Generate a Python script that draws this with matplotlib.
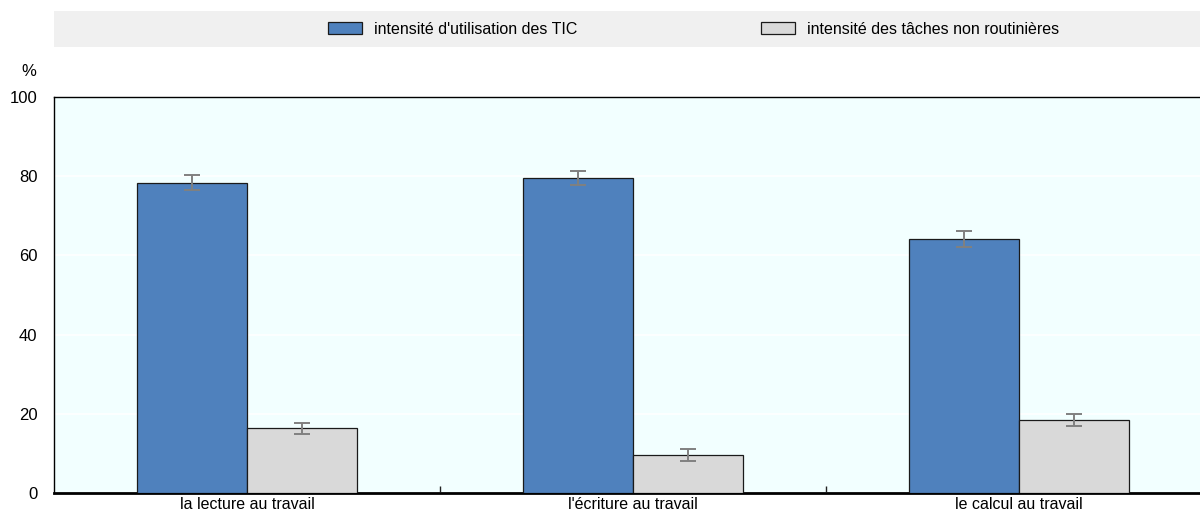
import matplotlib.pyplot as plt
import numpy as np
from matplotlib.patches import Rectangle

plt.rcParams['font.family'] = ['Liberation Sans', 'DejaVu Sans']

# data
categories = ["la lecture au travail", "l'écriture au travail", "le calcul au travail"]
series_names = ["intensité d'utilisation des TIC", "intensité des tâches non routinières"]
tic_vals = [78.4, 79.6, 64.1]
tic_err = [1.8, 1.7, 2.0]
nonrout_vals = [16.3, 9.5, 18.4]
nonrout_err = [1.5, 1.5, 1.6]

blue = "#4F81BD"
grey = "#D9D9D9"

fig = plt.figure(figsize=(12, 5.19), dpi=100)

# legend band at top
fig.patches.append(Rectangle((54 / 1200, 1 - 47 / 519), 1 - 54 / 1200, 36 / 519,
                             transform=fig.transFigure, facecolor="#F0F0F0",
                             edgecolor="none", zorder=0))

ax = fig.add_axes([54 / 1200, 26 / 519, 1158 / 1200, 396 / 519])
ax.set_facecolor("#F2FFFF")

x = np.arange(len(categories))
w = 0.285
b1 = ax.bar(x - w / 2, tic_vals, w, color=blue, edgecolor="#1a1a1a", linewidth=0.9, zorder=3)
b2 = ax.bar(x + w / 2, nonrout_vals, w, color=grey, edgecolor="#1a1a1a", linewidth=0.9, zorder=3)
ax.errorbar(x - w / 2, tic_vals, yerr=tic_err, fmt="none", ecolor="#808080",
            elinewidth=1.4, capsize=6, capthick=1.4, zorder=4)
ax.errorbar(x + w / 2, nonrout_vals, yerr=nonrout_err, fmt="none", ecolor="#808080",
            elinewidth=1.4, capsize=6, capthick=1.4, zorder=4)

ax.set_xlim(-0.5, len(categories) - 0.5)
ax.set_ylim(0, 100)
ax.set_yticks([0, 20, 40, 60, 80, 100])
ax.yaxis.grid(True, color="white", linewidth=1.2, zorder=0)
ax.set_axisbelow(True)
ax.tick_params(axis="y", length=0, labelsize=12, pad=12)

# category labels at centres, ticks at boundaries
ax.set_xticks(x)
ax.set_xticklabels(categories, fontsize=11.5)
ax.tick_params(axis="x", which="major", length=0, pad=3)
ax.set_xticks(x[:-1] + 0.5, minor=True)
ax.tick_params(axis="x", which="minor", direction="in", length=5, width=1, color="#222222")

for s in ["left", "top"]:
    ax.spines[s].set_linewidth(1.0)
ax.spines["bottom"].set_linewidth(2.0)
ax.spines["right"].set_visible(False)

ax.text(-0.015, 1.053, "%", transform=ax.transAxes, ha="right", va="baseline", fontsize=12)

fig.legend([b1, b2], series_names, loc="center", bbox_to_anchor=(0.578, 1 - 29 / 519),
           ncol=2, frameon=False, fontsize=11.5, handlelength=2.1, handleheight=0.8,
           columnspacing=11.5, handletextpad=0.75)

fig.savefig("out.png", dpi=100)
